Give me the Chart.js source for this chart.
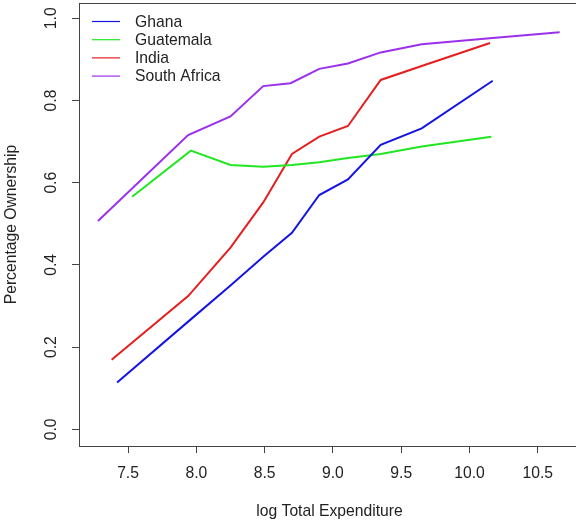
<!DOCTYPE html>
<html>
<head>
<meta charset="utf-8">
<script src="https://cdn.jsdelivr.net/npm/chart.js@4/dist/chart.umd.min.js"></script>
<style>
  html, body { margin: 0; padding: 0; overflow: hidden; background: #fff; }
  #wrap { width: 582px; height: 525px; }
</style>
</head>
<body>
<div id="wrap"><canvas id="graph" width="582" height="525"></canvas></div>
<script>
// values
var countries = ["Ghana", "Guatemala", "India", "South Africa"];
var colours = ["#1414e6", "#22e622", "#e61e1e", "#9b30ec"];

var ghanaX = [7.42, 7.94, 8.25, 8.49, 8.70, 8.90, 9.11, 9.35, 9.65, 10.17];
var ghanaY = [0.114, 0.262, 0.350, 0.420, 0.478, 0.570, 0.608, 0.692, 0.732, 0.848];

var guatX = [7.53, 7.96, 8.25, 8.49, 8.70, 8.90, 9.11, 9.35, 9.65, 10.16];
var guatY = [0.566, 0.678, 0.643, 0.639, 0.643, 0.650, 0.660, 0.670, 0.688, 0.712];

var indiaX = [7.38, 7.94, 8.25, 8.49, 8.70, 8.90, 9.11, 9.35, 9.65, 10.15];
var indiaY = [0.169, 0.324, 0.442, 0.552, 0.670, 0.712, 0.738, 0.850, 0.884, 0.940];

var safX = [7.28, 7.94, 8.25, 8.49, 8.69, 8.90, 9.11, 9.35, 9.65, 10.17, 10.66];
var safY = [0.507, 0.716, 0.761, 0.835, 0.842, 0.877, 0.890, 0.917, 0.937, 0.952, 0.966];

var xTitle = "log Total Expenditure";
var yTitle = "Percentage Ownership";

function pts(xs, ys){
  var out = [];
  for (let i=0; i<xs.length; i++) out.push({x: xs[i], y: ys[i]});
  return out;
}
var allX = [ghanaX, guatX, indiaX, safX];
var allY = [ghanaY, guatY, indiaY, safY];

var datasets = [];
for (let i=0; i<countries.length; i++){
  datasets.push({
    label: countries[i],
    data: pts(allX[i], allY[i]),
    borderColor: colours[i],
    backgroundColor: colours[i],
    borderWidth: 2,
    pointRadius: 0,
    tension: 0,
    fill: false
  });
}

var FONT = '"Liberation Sans", Arial, sans-serif';
var FSIZE = 15.7;
var INK = "#222";
var AXIS = "#444";

// box, rotated y tick labels and legend, R style
var rStyle = {
  id: "rStyle",
  afterDraw(chart){
    var ctx = chart.ctx, a = chart.chartArea;
    ctx.save();
    ctx.strokeStyle = AXIS;
    ctx.lineWidth = 1;
    ctx.beginPath();
    ctx.moveTo(a.left, a.top + 0.5);
    ctx.lineTo(a.right, a.top + 0.5);
    ctx.moveTo(a.right - 0.5, a.top);
    ctx.lineTo(a.right - 0.5, a.bottom);
    ctx.stroke();

    var ys = chart.scales.y;
    ctx.font = FSIZE + "px " + FONT;
    ctx.fillStyle = INK;
    ctx.textAlign = "center";
    ctx.textBaseline = "middle";
    ys.ticks.forEach(function(t){
      var py = ys.getPixelForValue(t.value);
      ctx.save();
      ctx.translate(52, py);
      ctx.rotate(-Math.PI/2);
      ctx.fillText(t.value.toFixed(1), 0, 0);
      ctx.restore();
    });

    ctx.textAlign = "left";
    chart.data.datasets.forEach(function(ds, i){
      var ly = 21.5 + i*18.2;
      ctx.strokeStyle = ds.borderColor;
      ctx.lineWidth = 1.2;
      ctx.beginPath();
      ctx.moveTo(92, ly);
      ctx.lineTo(120, ly);
      ctx.stroke();
      ctx.fillStyle = INK;
      ctx.fillText(ds.label, 135, ly + 1);
    });
    ctx.restore();
  }
};

const graph = new Chart("graph", {
  type: "line",
  data: { datasets: datasets },
  plugins: [rStyle],
  options: {
    responsive: false,
    animation: false,
    layout: { padding: { left: 0, right: 2, top: 3, bottom: 0 } },
    plugins: { legend: { display: false }, tooltip: { enabled: false } },
    scales: {
      x: {
        type: "linear",
        min: 7.141, max: 10.809,
        afterFit: function(s){ s.height = 79; },
        border: { display: true, color: AXIS, width: 1 },
        grid: { drawOnChartArea: false, drawTicks: true, tickLength: 7, color: AXIS },
        ticks: {
          stepSize: 0.5, includeBounds: false, autoSkip: false, maxRotation: 0,
          padding: 10.9, color: INK, font: { size: FSIZE, family: FONT },
          callback: function(v){ return v.toFixed(1); }
        },
        title: { display: true, text: xTitle, color: INK,
                 font: { size: FSIZE, family: FONT }, padding: { top: 0, bottom: 4 } }
      },
      y: {
        type: "linear",
        min: -0.0406, max: 1.0372,
        afterFit: function(s){ s.width = 79; },
        border: { display: true, color: AXIS, width: 1 },
        grid: { drawOnChartArea: false, drawTicks: true, tickLength: 7, color: AXIS },
        ticks: { stepSize: 0.2, includeBounds: false, display: false },
        title: { display: true, text: yTitle, color: INK,
                 font: { size: FSIZE, family: FONT }, padding: { top: 2.6, bottom: 0 } }
      }
    }
  }
});
</script>
</body>
</html>
